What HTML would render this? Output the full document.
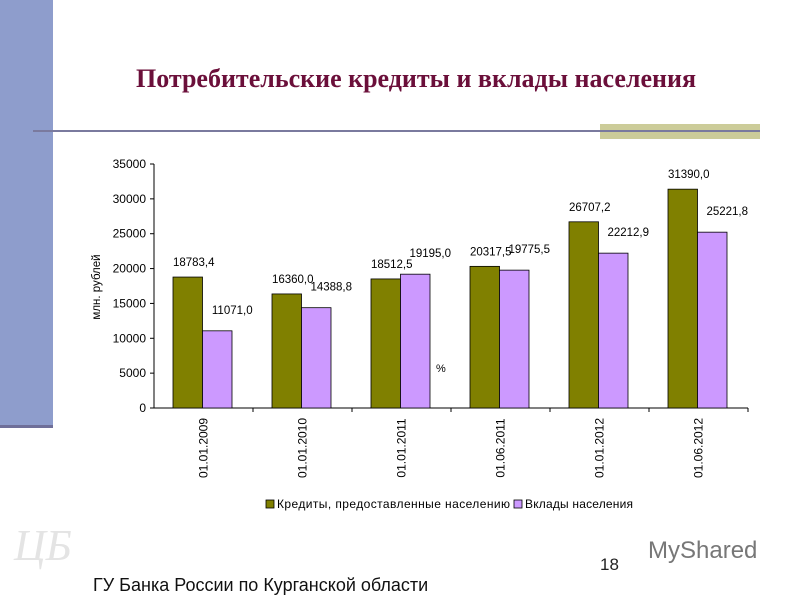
<!DOCTYPE html>
<html><head><meta charset="utf-8"><style>
body{margin:0;width:800px;height:600px;background:#fff;overflow:hidden;position:relative;font-family:"Liberation Sans",sans-serif}
</style></head><body>
<div style="position:absolute;left:0;top:0;width:53px;height:425px;background:#8e9dcc"></div>
<div style="position:absolute;left:0;top:425px;width:53px;height:3px;background:#6f6f99"></div>
<div style="position:absolute;left:0;top:64px;width:800px;text-align:center;padding-left:32px;box-sizing:border-box;font-family:'Liberation Serif',serif;font-weight:bold;font-size:26px;color:#6b0f3a">Потребительские кредиты и вклады населения</div>
<div style="position:absolute;left:600px;top:124px;width:160px;height:15px;background:#cccc99"></div>
<div style="position:absolute;left:33px;top:130px;width:727px;height:2px;background:#7a7a9e"></div>
<svg id="chart" width="800" height="600" style="position:absolute;left:0;top:0;font-family:'Liberation Sans',sans-serif"></svg>
<div style="position:absolute;left:93px;top:575px;font-size:18px;color:#111">ГУ Банка России по Курганской области</div>
<div style="position:absolute;left:600px;top:555px;font-size:17px;color:#222">18</div>
<div style="position:absolute;left:648px;top:537px;font-size:24px;color:#777">MyShared</div>
<div style="position:absolute;left:14px;top:520px;font-family:'Liberation Serif',serif;font-style:italic;font-size:44px;color:#e4e4e4">ЦБ</div>
<script>
const categories=["01.01.2009","01.01.2010","01.01.2011","01.06.2011","01.01.2012","01.06.2012"];
const credits=[18783.4,16360.0,18512.5,20317.5,26707.2,31390.0];
const deposits=[11071.0,14388.8,19195.0,19775.5,22212.9,25221.8];
const creditLabels=["18783,4","16360,0","18512,5","20317,5","26707,2","31390,0"];
const depositLabels=["11071,0","14388,8","19195,0","19775,5","22212,9","25221,8"];
const yTicks=[0,5000,10000,15000,20000,25000,30000,35000];
const svg=document.getElementById('chart');const NS='http://www.w3.org/2000/svg';
const x0=154,y0=408,yTop=164,yMax=35000,cw=99;
const y=v=>y0-(v/yMax)*(y0-yTop);
const xc=i=>x0+i*cw;
function mk(t,a,txt){const e=document.createElementNS(NS,t);for(const k in a)e.setAttribute(k,a[k]);if(txt!==undefined)e.textContent=txt;svg.appendChild(e);return e;}
let e=mk('line',{x1:x0,y1:yTop,x2:x0,y2:y0,stroke:'#000'});

e=mk('line',{x1:x0,y1:y0,x2:x0+cw*categories.length,y2:y0,stroke:'#000'});

yTicks.forEach(v=>{
 mk('line',{x1:x0-4,y1:y(v),x2:x0,y2:y(v),stroke:'#000'});
 const t=mk('text',{x:x0-8,y:y(v)+4,'text-anchor':'end','font-size':12,fill:'#000'},v);
 
});
categories.forEach((c,i)=>{
 mk('line',{x1:xc(i+1),y1:y0,x2:xc(i+1),y2:y0+4,stroke:'#000'});
 const bx=xc(i)+19,bw=29.5;
 let b=mk('rect',{x:bx,y:y(credits[i]),width:bw,height:y0-y(credits[i]),fill:'#808000',stroke:'#000','stroke-width':0.8});
 
 b=mk('rect',{x:bx+bw,y:y(deposits[i]),width:bw,height:y0-y(deposits[i]),fill:'#cc99ff',stroke:'#000','stroke-width':0.8});
 
 let t=mk('text',{x:bx+bw/2+6,y:y(credits[i])-11,'text-anchor':'middle','font-size':11.5},creditLabels[i]);
 
 t=mk('text',{x:bx+bw*1.5+15,y:y(deposits[i])-17,'text-anchor':'middle','font-size':11.5},depositLabels[i]);
 
 const cx=xc(i)+cw/2+4;
 t=mk('text',{x:cx,y:448,'text-anchor':'middle','font-size':12,transform:`rotate(-90 ${cx} 448)`},c);
 
});
e=mk('text',{x:100,y:287,'text-anchor':'middle','font-size':11.5,transform:'rotate(-90 100 287)'},'млн. рублей');

e=mk('text',{x:436,y:372,'font-size':11},'%');

e=mk('rect',{x:266,y:500,width:8,height:8,fill:'#808000',stroke:'#000','stroke-width':0.8});

e=mk('text',{x:277,y:508,'font-size':12,textLength:233,lengthAdjust:'spacing'},'Кредиты, предоставленные населению');

e=mk('rect',{x:514,y:500,width:8,height:8,fill:'#cc99ff',stroke:'#000','stroke-width':0.8});

e=mk('text',{x:525,y:508,'font-size':12,textLength:108,lengthAdjust:'spacing'},'Вклады населения');

</script>
</body></html>
